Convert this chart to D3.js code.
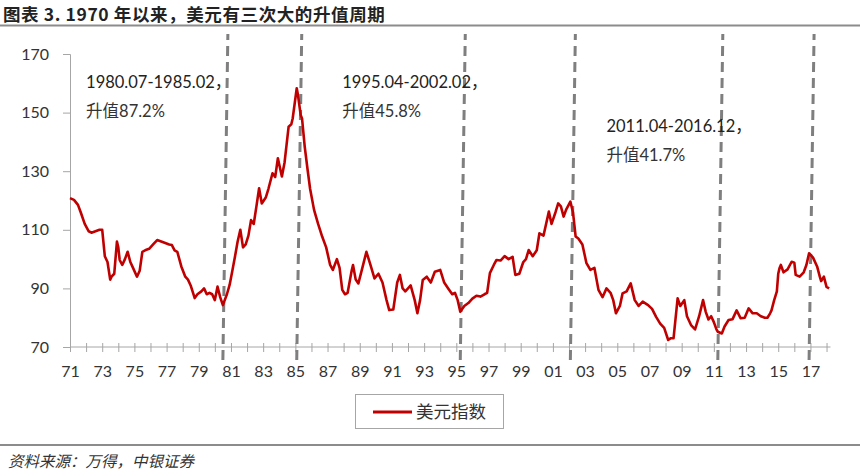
<!DOCTYPE html>
<html><head><meta charset="utf-8">
<script src="https://cdn.jsdelivr.net/npm/d3@7"></script>
<style>
html,body{margin:0;padding:0;background:#fff;}
svg{display:block;}
</style></head>
<body>
<svg id="chart" width="860" height="472"></svg>
<script>
const titleText = "图表 3. 1970 年以来，美元有三次大的升值周期";
const sourceText = "资料来源：万得，中银证券";
const seriesName = "美元指数";

const dates = [
"1971-01","1971-04","1971-07","1971-09","1971-12","1972-03","1972-05","1972-08","1972-11",
"1973-01","1973-03","1973-05","1973-07","1973-08","1973-10","1973-12",
"1974-01","1974-02","1974-04","1974-06","1974-08","1974-10","1974-12",
"1975-03","1975-05","1975-07","1975-09","1975-12",
"1976-03","1976-06","1976-09","1976-12",
"1977-03","1977-05","1977-07","1977-09","1977-12",
"1978-03","1978-05","1978-07","1978-10","1978-12",
"1979-03","1979-05","1979-07","1979-09","1979-11",
"1980-01","1980-03","1980-05","1980-07","1980-10","1980-12",
"1981-02","1981-04","1981-06","1981-08","1981-10","1981-12",
"1982-02","1982-04","1982-06","1982-08","1982-10","1982-12",
"1983-03","1983-05","1983-08","1983-10","1983-12",
"1984-03","1984-05","1984-08","1984-10","1984-11",
"1985-02","1985-03","1985-05","1985-06","1985-08","1985-10","1985-12",
"1986-03","1986-06","1986-09","1986-12",
"1987-03","1987-05","1987-08","1987-10","1987-12",
"1988-02","1988-04","1988-07","1988-08","1988-10","1988-12",
"1989-03","1989-06","1989-09","1989-12",
"1990-03","1990-06","1990-09","1990-11",
"1991-02","1991-05","1991-07","1991-09","1991-11",
"1992-01","1992-03","1992-06","1992-08","1992-10","1992-12",
"1993-03","1993-06","1993-09",
"1994-01","1994-04","1994-07","1994-10","1994-12",
"1995-02","1995-04","1995-07","1995-10",
"1996-01","1996-04","1996-07","1996-10","1996-12",
"1997-02","1997-05","1997-07","1997-10",
"1998-01","1998-04","1998-07","1998-09","1998-12",
"1999-03","1999-05","1999-07","1999-10",
"2000-01","2000-03","2000-06","2000-10","2000-12",
"2001-03","2001-05","2001-07","2001-09","2001-11",
"2002-02","2002-04","2002-06","2002-08","2002-11",
"2003-02","2003-05","2003-08","2003-11",
"2004-02","2004-05","2004-08","2004-10","2004-12",
"2005-03","2005-05","2005-08","2005-11",
"2006-02","2006-05","2006-08","2006-12",
"2007-03","2007-06","2007-09","2007-12",
"2008-03","2008-05","2008-07","2008-10","2008-12",
"2009-03","2009-05","2009-08","2009-11",
"2010-02","2010-05","2010-07","2010-09","2010-11",
"2011-01","2011-03","2011-04","2011-07","2011-09","2011-12",
"2012-03","2012-06","2012-09","2012-12",
"2013-03","2013-06","2013-09","2013-12",
"2014-03","2014-05","2014-07","2014-08","2014-10","2014-12",
"2015-01","2015-02","2015-03","2015-05","2015-08","2015-11",
"2016-01","2016-02","2016-05","2016-08","2016-10","2016-12",
"2017-01","2017-03","2017-06","2017-08","2017-09","2017-11",
"2018-01","2018-03"
];
const dxy = [
120.8,120.2,118.5,116,112,109.5,109,109.5,110,
110,101,99,93,94,95,106,
104,99.7,98,100,102.5,99,97,
94,96,102.5,103,103.5,
105,106.5,106,105.5,
105,104.8,103,102.5,97.5,
94,93,91,86.7,88,
89,90,88,88.5,88,
86,90.6,87,84.3,88,91.2,
96,100.8,106,110,104,105,
108,113.3,112,118,124.2,119,
121,124,129.3,128,134.4,
128.2,133,145.2,146,148,
158.3,156,149.2,148,138.4,131,124,
116.8,112,107.7,104,
98,96.3,100,97,89.5,
88,88.5,96,98,93,91.7,
97,102.5,98,93.4,
95,92,86,82.6,
82.8,92,94.6,90,89,
90,91,86,81.5,86,92.9,
94,92,95.7,
96.3,92,90,88,88.5,
86,82,84,85,
86.5,87.5,87.2,88,88.5,
95.2,98,99.7,99.5,
101,100,100.8,94.6,95,
99,100,103.1,101,
103,108.8,108,116.2,112,
116,119,118,114.5,117,
119.6,116,107.7,107,105,
98.6,96.3,97,89.5,
87,90,88.5,86,81.5,
84,88.3,89,91.7,
86,84,85.5,84.3,
83,80.3,78,76.5,
72.4,73,73,86.6,84,
86,80.5,77.5,76,
80.5,86,82,79.4,80.5,
78.5,76,75.2,74.6,77,79.2,
79.5,82.5,79.8,80,
83.2,81.5,81.5,80.5,
80,80,81.5,82.5,86,89,
95,97,98,95.5,96.5,99.1,
98.8,94.6,94,95.5,98,102,
101.5,100.5,97.5,94,92.5,94,
90.5,90
];
const yTicks = [70, 90, 110, 130, 150, 170];
const cycleDates = ["1980-07","1985-02","1995-04","2002-02","2011-04","2016-12"];
const annoText1 = ["1980.07-1985.02，","1995.04-2002.02，","2011.04-2016.12，"];
const annoText2 = ["升值87.2%","升值45.8%","升值41.7%"];
const annoAt = [["1972-01",158.4],["1987-12",158.4],["2004-05",143.4]];

const parse = d3.timeParse("%Y-%m");
const data = dates.map((d,i)=>({t:parse(d), v:dxy[i]}));

const svg = d3.select("#chart");
const x = d3.scaleTime().domain([parse("1971-01"), parse("2018-04")]).range([70, 830.5]);
const y = d3.scaleLinear().domain([70,170]).range([347,54]);

const latin = "Lato, 'Open Sans', 'Noto Sans CJK SC', sans-serif";
const cjk = "'Noto Sans CJK SC', sans-serif";

// title
svg.append("text").attr("x",3).attr("y",20.5).attr("font-family",cjk).attr("font-weight","bold")
  .attr("font-size",17.5).attr("letter-spacing",0.6).attr("fill","#222").text(titleText);
svg.append("line").attr("x1",0).attr("x2",860).attr("y1",25.5).attr("y2",25.5).attr("stroke","#8c8c8c").attr("stroke-width",2);

// y axis
const yAxis = svg.append("g").attr("transform","translate(70,0)")
  .call(d3.axisLeft(y).tickValues(yTicks).tickSize(7).tickPadding(14));
yAxis.select(".domain").attr("stroke","#a6a6a6");
yAxis.selectAll(".tick line").attr("stroke","#a6a6a6");
yAxis.selectAll("text").attr("font-family",latin).attr("font-size",16).attr("fill","#333");

// x axis
const yearTicks = d3.timeYear.range(parse("1971-01"), parse("2019-01"));
const xAxis = svg.append("g").attr("transform",`translate(0,${y(70)})`)
  .call(d3.axisBottom(x).tickValues(yearTicks).tickSize(5).tickPadding(14)
    .tickFormat(d => (d.getFullYear() % 2 === 1) ? d3.timeFormat("%y")(d) : ""));
xAxis.select(".domain").attr("stroke","#a6a6a6").attr("d", `M70,0H830.5`);
xAxis.selectAll(".tick line").attr("stroke","#a6a6a6").attr("y1",-4);
xAxis.selectAll("text").attr("font-family",latin).attr("font-size",16).attr("fill","#333");

// dashed cycle lines
svg.append("g").selectAll("line").data(cycleDates).join("line")
  .attr("x1", d => x(parse(d))).attr("y1", 360)
  .attr("x2", d => x(parse(d)) + 5).attr("y2", 34)
  .attr("stroke","#7f7f7f").attr("stroke-width",3).attr("stroke-dasharray","10,6");

// series line
svg.append("path").datum(data)
  .attr("fill","none").attr("stroke","#C00000").attr("stroke-width",2.6)
  .attr("stroke-linejoin","round")
  .attr("d", d3.line().x(d=>x(d.t)).y(d=>y(d.v)));

// annotations
const ann = svg.append("g");
annoAt.forEach((a,i)=>{
  const ax = x(parse(a[0])), ay = y(a[1]);
  ann.append("text").attr("x",ax).attr("y",ay).attr("font-family",latin)
    .attr("font-size",16.5).attr("fill","#222").text(annoText1[i]);
  ann.append("text").attr("x",ax).attr("y",ay + 29).attr("font-family",latin)
    .attr("font-size",16.5).attr("fill","#333").text(annoText2[i]);
});

// legend
const lg = svg.append("g");
lg.append("rect").attr("x",355.5).attr("y",394.5).attr("width",148).attr("height",34)
  .attr("fill","#fff").attr("stroke","#a6a6a6");
lg.append("line").attr("x1",373).attr("x2",412).attr("y1",412).attr("y2",412)
  .attr("stroke","#C00000").attr("stroke-width",3);
lg.append("text").attr("x",416).attr("y",418).attr("font-family",cjk).attr("font-size",17.5)
  .attr("fill","#333").text(seriesName);

// source
svg.append("line").attr("x1",0).attr("x2",860).attr("y1",445).attr("y2",445).attr("stroke","#8c8c8c").attr("stroke-width",2);
svg.append("text").attr("x",8).attr("y",467).attr("font-family",cjk).attr("font-style","italic")
  .attr("font-size",15.5).attr("fill","#333").text(sourceText);
</script>
</body></html>
